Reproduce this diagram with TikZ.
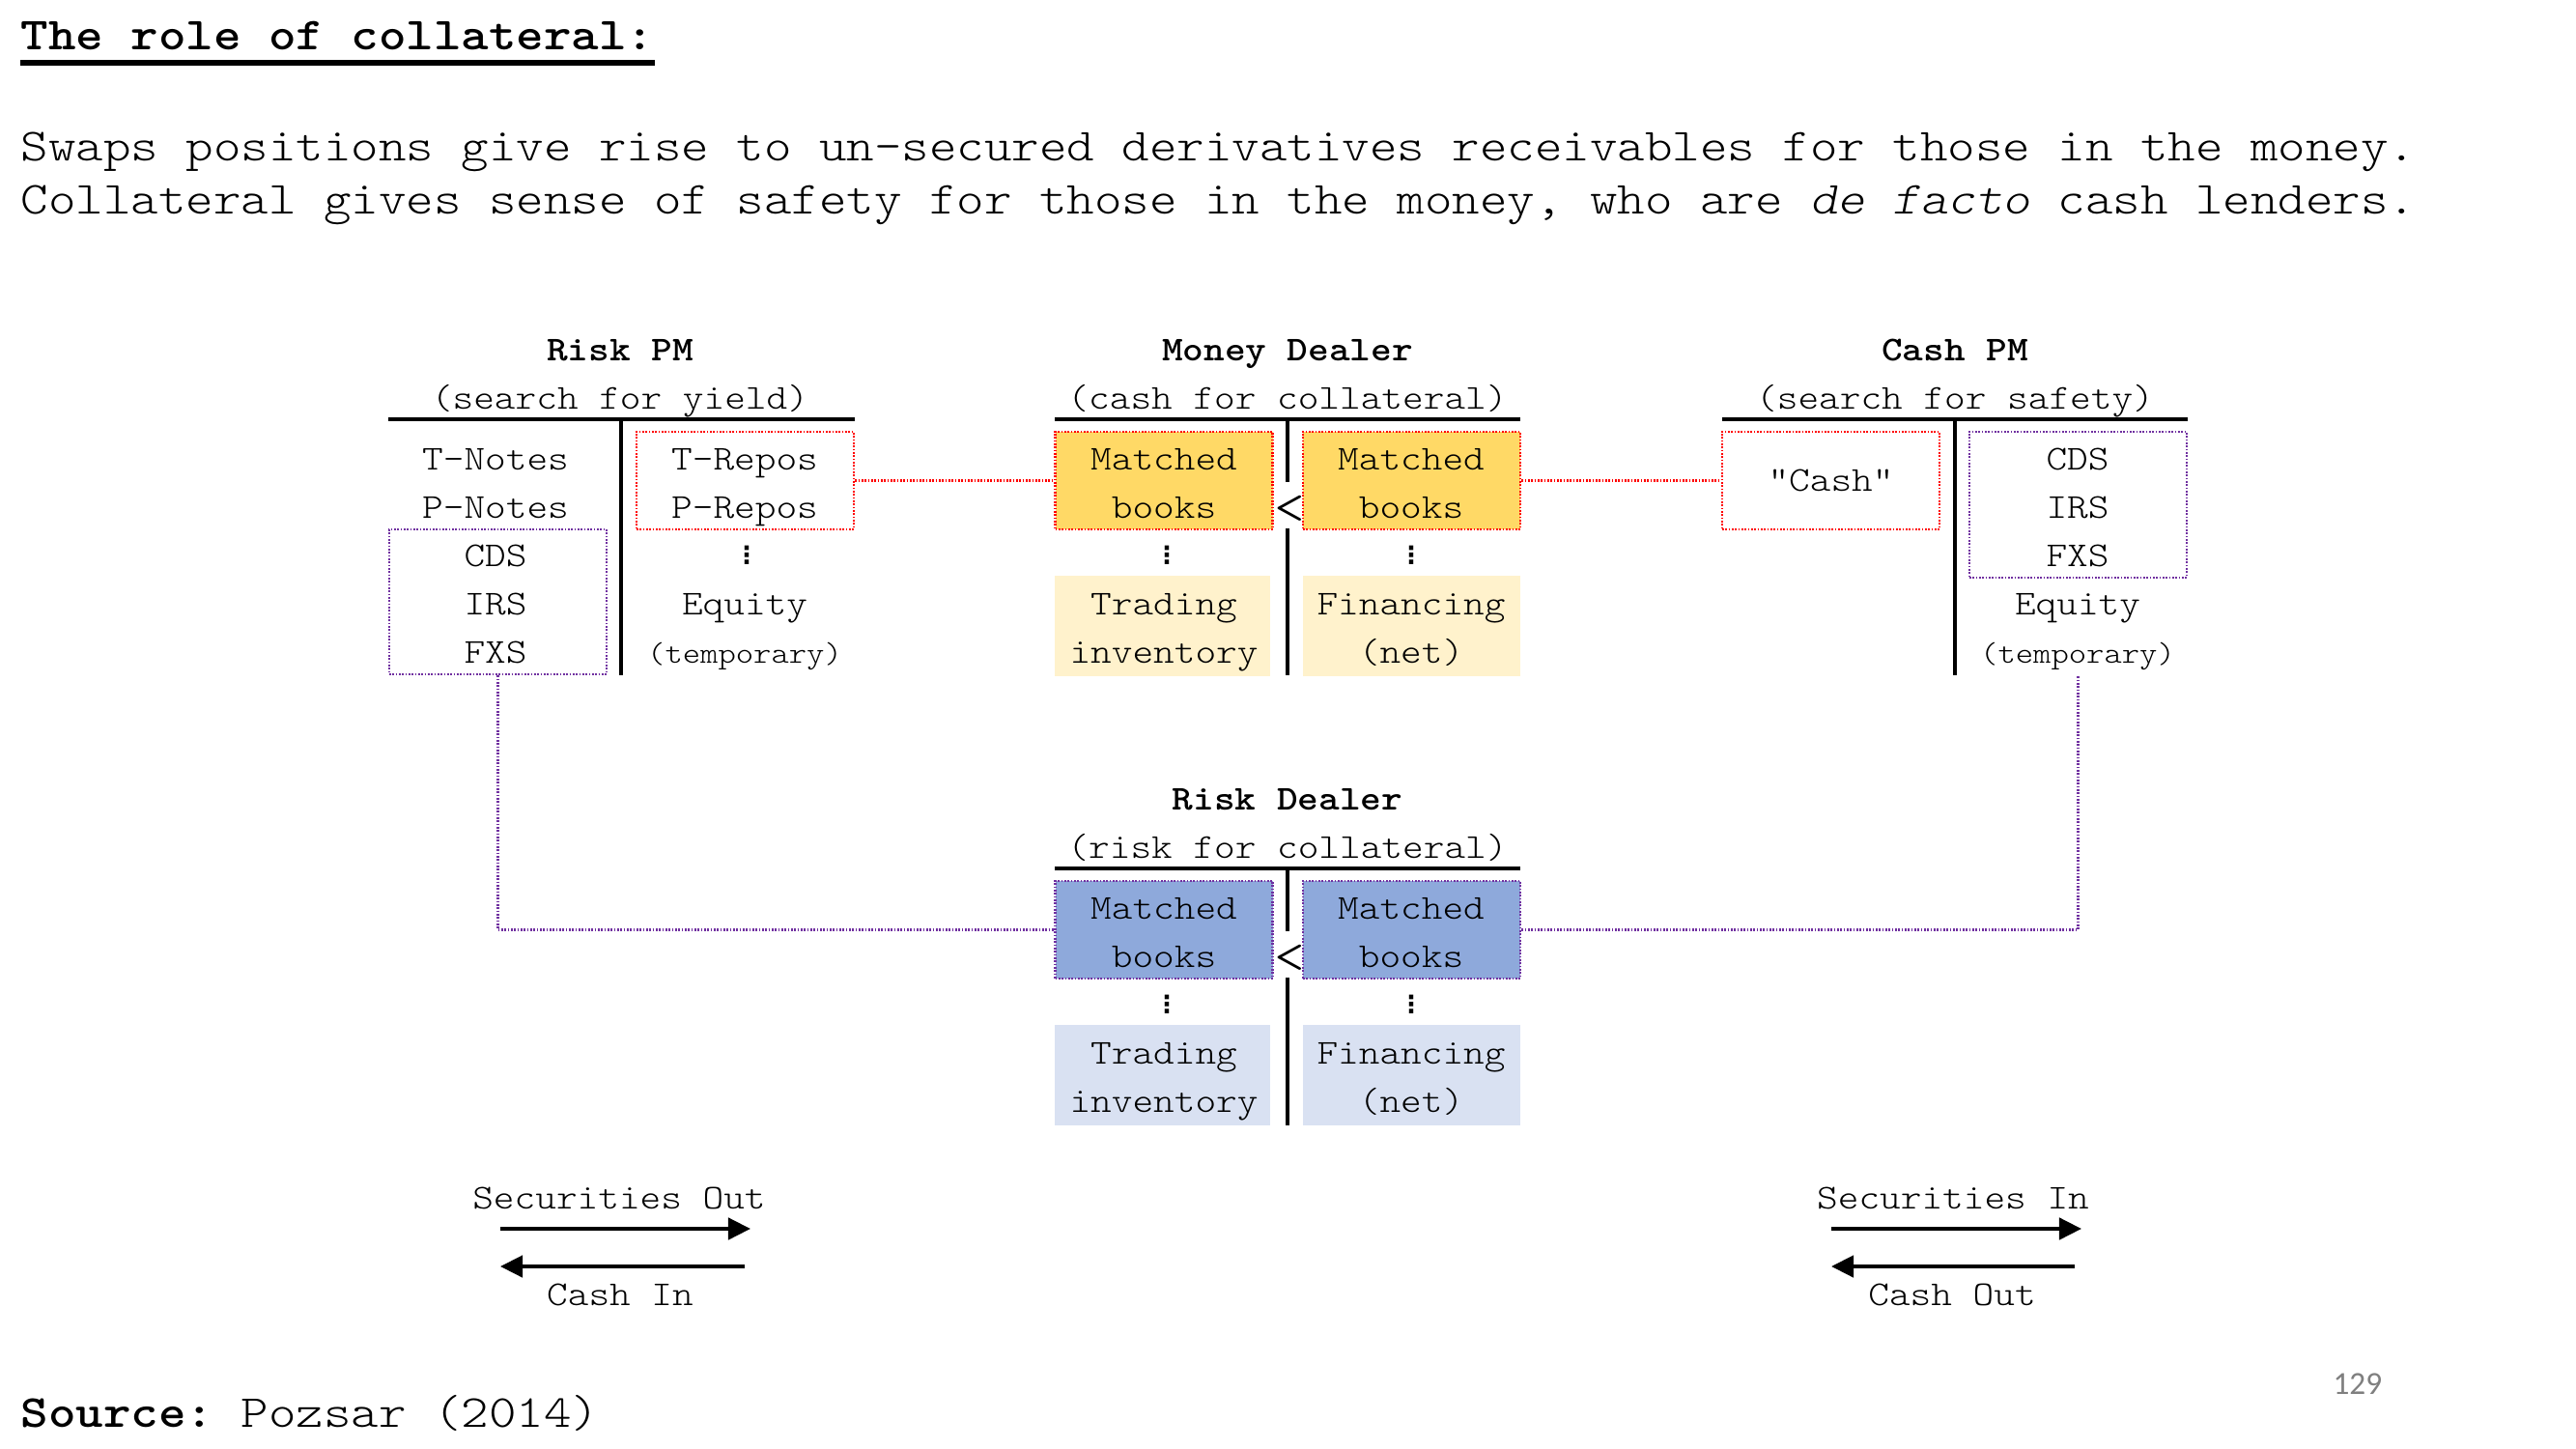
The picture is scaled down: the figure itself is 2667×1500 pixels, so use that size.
\documentclass[tikz,border=0pt]{standalone}
\usepackage{fontspec}
\setmonofont{lmmonolt10-regular.otf}[
  BoldFont=lmmonolt10-bold.otf,
  ItalicFont=lmmonolt10-oblique.otf,
  BoldItalicFont=lmmonolt10-boldoblique.otf,
  FakeStretch=1.143]
\renewcommand{\familydefault}{\ttdefault}
\newfontfamily\dotsfont{DejaVu Sans}
\newfontfamily\pagefont{Carlito}
\usetikzlibrary{arrows.meta, positioning}

\definecolor{repored}{HTML}{FF0000}
\definecolor{swappurple}{HTML}{7030A0}
\definecolor{bookgold}{HTML}{FFD966}
\definecolor{booklight}{HTML}{FFF2CC}
\definecolor{riskblue}{HTML}{8EA9DB}
\definecolor{risklight}{HTML}{D9E1F2}
\definecolor{pagegray}{HTML}{7F7F7F}

\tikzset{
  rowtext/.style={font=\fontsize{13}{18}\selectfont, inner sep=0pt, text height=11pt, text depth=3pt},
  smallrow/.style={rowtext, font=\fontsize{11}{14}\selectfont},
  blockhead/.style={rowtext, font=\fontsize{13}{18}\selectfont\bfseries},
  lessmark/.style={rowtext, font=\fontsize{19}{19}\selectfont},
  pagetext/.style={anchor=base west, inner sep=0pt, font=\fontsize{17.1}{20}\selectfont},
  vdot/.style={font=\dotsfont\bfseries\fontsize{9}{9}\selectfont, inner sep=0pt},
  ledger/.style={line width=1.4pt},
  redline/.style={draw=repored, line width=1pt, dash pattern=on 0.6pt off 0.6pt},
  swapline/.style={draw=swappurple, line width=1pt, dash pattern=on 0.6pt off 0.6pt},
  halfbox/.style={inner sep=0pt, minimum width=81pt, minimum height=36.4pt},
  flow/.style={line width=1.45pt, -{Triangle[length=8.3pt, width=8pt]}}
}

\begin{document}
\begin{tikzpicture}[x=0.36pt, y=-0.36pt, node distance=18pt]
      \useasboundingbox (0,0) rectangle (2667,1500);

      % heading %
      \node[pagetext, font=\fontsize{17.1}{20}\selectfont\bfseries] (title) at (21,52) {The role of collateral:};
      \draw[line width=2.1pt] ([yshift=-4.7pt]title.base west) -- ([yshift=-4.7pt]title.base east);
      \node[pagetext] (intro1) at (21,167) {Swaps positions give rise to un-secured derivatives receivables for those in the money.};
      \node[pagetext] (intro2) at (21,222) {Collateral gives sense of safety for those in the money, who are \textit{de facto} cash lenders.};
      \node[pagetext] (source) at (21,1477) {\textbf{Source:} Pozsar (2014)};
      \node[anchor=base west, inner sep=0pt, font=\pagefont\fontsize{12}{14}\selectfont, text=pagegray] (pagenum) at (2415,1443) {129};

      % risk pm %
      \node[blockhead] (rpm) at (642,362) {Risk PM};
      \node[rowtext, below of=rpm] (rpmsub) {(search for yield)};
      \draw[ledger] (402,434) -- (885,434);
      \draw[ledger] (643,434) -- (643,699);
      \node[halfbox, redline] (rpmrepo) at (771.5,497.5) {};
      \node[halfbox, swapline, minimum height=54pt] (rpmswap) at (515.5,623) {};
      \node[rowtext] (rpmtn) at (513,475) {T-Notes};
      \node[rowtext, below of=rpmtn] (rpmpn) {P-Notes};
      \node[rowtext, below of=rpmpn] (rpmcds) {CDS};
      \node[rowtext, below of=rpmcds] (rpmirs) {IRS};
      \node[rowtext, below of=rpmirs] (rpmfxs) {FXS};
      \node[rowtext] (rpmtr) at (771,475) {T-Repos};
      \node[rowtext, below of=rpmtr] (rpmpr) {P-Repos};
      \node[vdot] (rpmdots) at (773,575) {⋮};
      \node[rowtext] (rpmeq) at (771,625) {Equity};
      \node[smallrow, below of=rpmeq] (rpmtmp) {(temporary)};

      % money dealer %
      \node[blockhead] (md) at (1333,362) {Money Dealer};
      \node[rowtext, below of=md] (mdsub) {(cash for collateral)};
      \draw[ledger] (1092,434) -- (1574,434);
      \draw[ledger] (1333,434) -- (1333,499);
      \draw[ledger] (1333,547) -- (1333,699);
      \node[halfbox, fill=bookgold, redline] (mdlbook) at (1205,497.5) {};
      \node[halfbox, fill=bookgold, redline] (mdrbook) at (1461.5,497.5) {};
      \node[halfbox, fill=booklight, minimum width=80.3pt, minimum height=37.4pt] (mdtrade) at (1203.5,648) {};
      \node[halfbox, fill=booklight, minimum height=37.4pt] (mdfin) at (1461,648) {};
      \node[rowtext] (mdm1) at (1205,475) {Matched};
      \node[rowtext, below of=mdm1] (mdb1) {books};
      \node[rowtext] (mdm2) at (1461,475) {Matched};
      \node[rowtext, below of=mdm2] (mdb2) {books};
      \node[lessmark] (mdless) at (1335,531) {<};
      \node[vdot] (mddots1) at (1208,575) {⋮};
      \node[vdot] (mddots2) at (1461,575) {⋮};
      \node[rowtext] (mdtr) at (1205,625) {Trading};
      \node[rowtext, below of=mdtr] (mdinv) {inventory};
      \node[rowtext] (mdfn) at (1461,625) {Financing};
      \node[rowtext, below of=mdfn] (mdnet) {(net)};

      % cash pm %
      \node[blockhead] (cpm) at (2024,362) {Cash PM};
      \node[rowtext, below of=cpm] (cpmsub) {(search for safety)};
      \draw[ledger] (1783,434) -- (2265,434);
      \draw[ledger] (2024,434) -- (2024,699);
      \node[halfbox, redline] (cpmcash) at (1895.5,497.5) {};
      \node[halfbox, swapline, minimum height=54.4pt] (cpmswap) at (2151.5,522.5) {};
      \node[rowtext] (cpmc) at (1895.5,497) {"Cash"};
      \node[rowtext] (cpmcds) at (2151,475) {CDS};
      \node[rowtext, below of=cpmcds] (cpmirs) {IRS};
      \node[rowtext, below of=cpmirs] (cpmfxs) {FXS};
      \node[rowtext, below of=cpmfxs] (cpmeq) {Equity};
      \node[smallrow, below of=cpmeq] (cpmtmp) {(temporary)};
      \coordinate (cpmfoot) at (2151.5,699);

      % risk dealer %
      \node[blockhead] (rd) at (1333,827) {Risk Dealer};
      \node[rowtext, below of=rd] (rdsub) {(risk for collateral)};
      \draw[ledger] (1092,899) -- (1574,899);
      \draw[ledger] (1333,899) -- (1333,964);
      \draw[ledger] (1333,1012) -- (1333,1165);
      \node[halfbox, fill=riskblue, swapline] (rdlbook) at (1205,962.5) {};
      \node[halfbox, fill=riskblue, swapline] (rdrbook) at (1461.5,962.5) {};
      \node[halfbox, fill=risklight, minimum width=80.3pt, minimum height=37.4pt] (rdtrade) at (1203.5,1113) {};
      \node[halfbox, fill=risklight, minimum height=37.4pt] (rdfin) at (1461,1113) {};
      \node[rowtext] (rdm1) at (1205,940) {Matched};
      \node[rowtext, below of=rdm1] (rdb1) {books};
      \node[rowtext] (rdm2) at (1461,940) {Matched};
      \node[rowtext, below of=rdm2] (rdb2) {books};
      \node[lessmark] (rdless) at (1335,996) {<};
      \node[vdot] (rddots1) at (1208,1040) {⋮};
      \node[vdot] (rddots2) at (1461,1040) {⋮};
      \node[rowtext] (rdtr) at (1205,1090) {Trading};
      \node[rowtext, below of=rdtr] (rdinv) {inventory};
      \node[rowtext] (rdfn) at (1461,1090) {Financing};
      \node[rowtext, below of=rdfn] (rdnet) {(net)};

      % flows legend %
      \node[rowtext] (secout) at (641,1240) {Securities Out};
      \node[rowtext] (cashin) at (642,1340) {Cash In};
      \coordinate (soa) at (518,1272);
      \coordinate (sob) at (777,1272);
      \coordinate (cia) at (771,1311);
      \coordinate (cib) at (518,1311);
      \node[rowtext] (secin) at (2022,1240) {Securities In};
      \node[rowtext] (cashout) at (2021,1340) {Cash Out};
      \coordinate (sia) at (1896,1272);
      \coordinate (sib) at (2155,1272);
      \coordinate (coa) at (2148,1311);
      \coordinate (cob) at (1896,1311);

      % edges %
      \draw[redline] (rpmrepo) -- (mdlbook);
      \draw[redline] (mdrbook) -- (cpmcash);
      \draw[swapline] (rpmswap.south) |- (rdlbook.west);
      \draw[swapline] (rdrbook.east) -| (cpmfoot);
      \draw[flow] (soa) -- (sob);
      \draw[flow] (cia) -- (cib);
      \draw[flow] (sia) -- (sib);
      \draw[flow] (coa) -- (cob);
\end{tikzpicture}
\end{document}
